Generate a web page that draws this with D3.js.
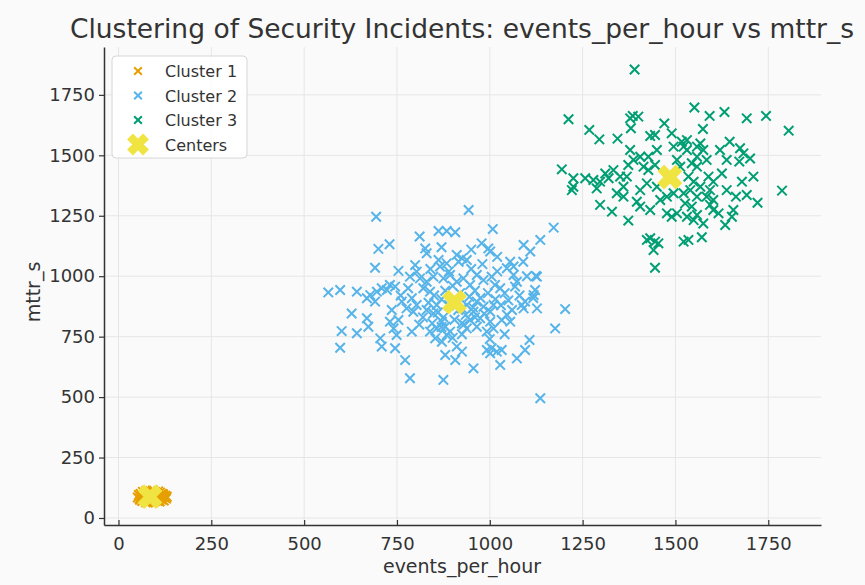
<!DOCTYPE html>
<html>
<head>
<meta charset="utf-8">
<script src="https://cdn.jsdelivr.net/npm/d3@7"></script>
<style>
  html, body { margin: 0; padding: 0; background: #fafafa; }
  text { font-family: "DejaVu Sans", sans-serif; fill: #333; }
</style>
</head>
<body>
<div id="chart"></div>
<script>
// points: [events_per_hour, mttr_s]
const cluster1 = [
  [52,85],[55,95],[58,75],[60,100],[62,88],[64,70],[66,108],[68,92],[70,80],[72,98],
  [74,65],[75,112],[76,87],[78,76],[80,102],[82,92],[84,70],[85,84],[86,110],[88,96],
  [90,78],[91,88],[92,104],[94,66],[95,92],[96,82],[98,108],[100,74],[101,95],[103,86],
  [105,100],[106,70],[108,90],[110,80],[112,105],[114,94],[116,76],[118,88],[120,98],[122,72],
  [124,85],[126,92],[128,80],[130,88],[57,80],[63,94],[69,104],[79,64],[87,74],[93,114],
  [99,80],[107,110],[111,68],[117,100],[71,86],[83,100],[89,90],[97,70],[115,84],[121,90]
];

const cluster2 = [
  [694,1246],[943,1274],[862,1187],[884,1187],[907,1182],[1008,1195],[1172,1201],[811,1164],
  [730,1132],[700,1113],[826,1115],[830,1095],[978,1136],[1001,1102],[996,1115],[1091,1129],
  [1109,1102],[1136,1150],[691,1035],[754,1022],[862,1067],[866,1040],[884,1053],[911,1088],
  [925,1074],[938,1067],[916,1060],[1055,1060],[1064,1040],[1046,1033],[799,1046],[803,1019],
  [785,998],[565,933],[597,943],[642,936],[678,922],[696,936],[709,950],[731,964],[745,957],
  [723,943],[669,909],[691,895],[812,991],[830,977],[848,998],[821,950],[839,936],[875,991],
  [893,1005],[911,977],[929,991],[947,964],[965,1005],[983,984],[1005,998],[1014,964],[1028,950],
  [1064,1005],[1073,977],[1068,957],[1127,998],[1122,943],[1118,922],[1095,895],[1086,881],
  [1127,867],[1203,864],[763,895],[776,867],[790,909],[803,881],[794,853],[736,860],[731,812],
  [741,784],[754,819],[749,757],[628,846],[669,826],[673,791],[642,764],[601,773],[597,704],
  [705,743],[709,709],[745,702],[772,653],[790,771],[830,860],[848,846],[857,881],[871,812],
  [880,791],[857,784],[839,771],[853,743],[884,757],[871,729],[893,771],[925,867],[938,881],
  [956,853],[965,895],[983,874],[1001,853],[1010,881],[974,826],[947,819],[965,791],[938,784],
  [1001,812],[1010,784],[992,771],[925,805],[1046,840],[1055,812],[1032,819],[1176,784],
  [1107,736],[1095,695],[1073,660],[992,695],[1005,702],[1019,688],[1032,695],[1028,633],
  [1001,681],[911,709],[880,674],[907,653],[956,619],[925,688],[785,578],[875,571],[1136,495],
  [880,940],[900,960],[920,930],[945,915],[960,940],[870,905],[890,880],[915,860],[935,840],
  [955,870],[975,910],[995,930],[1015,905],[1030,880],[850,920],[835,890],[860,850],[875,830],
  [905,820],[930,800],[960,830],[985,845],[1040,930],[1050,900],[820,830],[810,800],[890,1020],
  [950,1030],[980,1050],[1020,1020],[870,790],[845,805],[900,745],[925,760],[1000,740],[1040,760],
  [1060,860],[1080,920],[760,920],[780,950],[1090,1060],[1100,1000],[1020,1080],[950,1110],
  [870,1120],[840,1030],[1117,910],[1091,867],[1124,1001]
];

const cluster3 = [
  [1390,1855],[1212,1649],[1551,1698],[1592,1663],[1632,1679],[1692,1653],[1744,1663],[1805,1602],
  [1385,1663],[1400,1660],[1378,1653],[1268,1605],[1295,1566],[1344,1569],[1380,1612],[1432,1580],
  [1445,1584],[1470,1632],[1490,1591],[1574,1609],[1646,1556],[1674,1529],[1701,1487],[1672,1474],
  [1194,1442],[1225,1405],[1225,1370],[1221,1356],[1297,1391],[1311,1425],[1288,1363],[1320,1405],
  [1351,1412],[1369,1412],[1342,1343],[1360,1329],[1297,1295],[1329,1267],[1373,1230],[1396,1308],
  [1405,1288],[1378,1522],[1373,1460],[1387,1481],[1405,1494],[1427,1494],[1445,1460],[1522,1536],
  [1531,1522],[1517,1556],[1558,1536],[1567,1549],[1575,1522],[1544,1467],[1558,1453],[1584,1481],
  [1589,1412],[1602,1391],[1593,1356],[1584,1329],[1602,1315],[1625,1425],[1679,1391],[1663,1329],
  [1721,1304],[1787,1354],[1656,1274],[1652,1246],[1634,1212],[1477,1260],[1490,1246],[1504,1260],
  [1531,1246],[1549,1232],[1558,1253],[1526,1301],[1544,1288],[1432,1157],[1445,1143],[1441,1108],
  [1454,1136],[1423,1150],[1522,1143],[1535,1150],[1571,1161],[1445,1035],[1616,1260],[1602,1274],
  [1522,1343],[1540,1356],[1477,1329],[1450,1370],[1414,1453],[1427,1439],[1450,1522],[1504,1481],
  [1495,1536],[1513,1453],[1535,1412],[1549,1391],[1567,1370],[1558,1329],[1495,1343],[1459,1315],
  [1432,1274],[1405,1356],[1423,1384],[1333,1439],[1360,1370],[1279,1398],[1257,1405],[1638,1481],
  [1620,1522],[1558,1494],[1531,1563],[1683,1508],[1710,1412],[1638,1356],[1692,1336],[1593,1295],
  [1575,1218]
];

const centers = [[85,88],[905,893],[1485,1410]];

const seriesNames = ["Cluster 1", "Cluster 2", "Cluster 3", "Centers"];
const seriesColors = ["#E69F00", "#56B4E9", "#009E73", "#F0E442"];
const xTicks = [0, 250, 500, 750, 1000, 1250, 1500, 1750];
const yTicks = [0, 250, 500, 750, 1000, 1250, 1500, 1750];

const W = 865, H = 585;
const svg = d3.select("#chart").append("svg")
  .attr("width", W).attr("height", H);

svg.append("rect").attr("width", W).attr("height", H).attr("fill", "#fafafa");

const x = d3.scaleLinear().domain([-39, 1892]).range([104, 821]);
const y = d3.scaleLinear().domain([-29, 1948]).range([525, 47]);

// grid
svg.append("g").selectAll("line").data(xTicks).join("line")
  .attr("x1", d => x(d)).attr("x2", d => x(d))
  .attr("y1", y.range()[0]).attr("y2", y.range()[1])
  .attr("stroke", "#e6e6e6").attr("stroke-width", 1);
svg.append("g").selectAll("line").data(yTicks).join("line")
  .attr("y1", d => y(d)).attr("y2", d => y(d))
  .attr("x1", x.range()[0]).attr("x2", x.range()[1])
  .attr("stroke", "#e6e6e6").attr("stroke-width", 1);

// axes
const xAxis = svg.append("g")
  .attr("transform", `translate(0,${y.range()[0]})`)
  .call(d3.axisBottom(x).tickValues(xTicks).tickFormat(d3.format("d"))
    .tickSizeInner(-5).tickSizeOuter(0).tickPadding(12));
const yAxis = svg.append("g")
  .attr("transform", `translate(${x.range()[0]},0)`)
  .call(d3.axisLeft(y).tickValues(yTicks).tickFormat(d3.format("d"))
    .tickSizeInner(5).tickSizeOuter(0).tickPadding(4));

[xAxis, yAxis].forEach(g => {
  g.select(".domain").attr("stroke", "#333").attr("stroke-width", 1.5);
  g.selectAll(".tick line").attr("stroke", "#333").attr("stroke-width", 1.2);
  g.selectAll(".tick text").attr("fill", "#333")
    .style("font-family", "DejaVu Sans").style("font-size", "18px");
});

// points
const cross = d3.symbol(d3.symbolTimes).size(60);
const plotCluster = (pts, color) => {
  svg.append("g").selectAll("path").data(pts).join("path")
    .attr("transform", d => `translate(${x(d[0])},${y(d[1])})`)
    .attr("d", cross)
    .attr("fill", "none")
    .attr("stroke", color)
    .attr("stroke-width", 2);
};
plotCluster(cluster1, seriesColors[0]);
plotCluster(cluster2, seriesColors[1]);
plotCluster(cluster3, seriesColors[2]);

const bigX = d3.symbol(d3.symbolCross).size(340);
svg.append("g").selectAll("path").data(centers).join("path")
  .attr("transform", d => `translate(${x(d[0])},${y(d[1])}) rotate(45)`)
  .attr("d", bigX)
  .attr("fill", seriesColors[3])
  .attr("stroke", seriesColors[3])
  .attr("stroke-width", 1);

// title and labels
svg.append("text")
  .attr("x", 462).attr("y", 38)
  .attr("text-anchor", "middle")
  .style("font-size", "26.5px")
  .text("Clustering of Security Incidents: events_per_hour vs mttr_s");

svg.append("text")
  .attr("x", 462).attr("y", 573)
  .attr("text-anchor", "middle")
  .style("font-size", "19px")
  .text("events_per_hour");

svg.append("text")
  .attr("transform", "translate(40,292) rotate(-90)")
  .attr("text-anchor", "middle")
  .style("font-size", "19px")
  .text("mttr_s");

// legend
const legend = svg.append("g").attr("transform", "translate(112,56)");
legend.append("rect")
  .attr("width", 135).attr("height", 102).attr("rx", 4)
  .attr("fill", "#fff").attr("fill-opacity", 0.85)
  .attr("stroke", "#d6d6d6");

seriesNames.forEach((name, i) => {
  const row = legend.append("g").attr("transform", `translate(0,${15 + i * 24.5})`);
  if (i < 3) {
    row.append("path")
      .attr("transform", "translate(26,0)")
      .attr("d", d3.symbol(d3.symbolTimes).size(40))
      .attr("fill", "none").attr("stroke", seriesColors[i]).attr("stroke-width", 2);
  } else {
    row.append("path")
      .attr("transform", "translate(26,0) rotate(45)")
      .attr("d", d3.symbol(d3.symbolCross).size(260))
      .attr("fill", seriesColors[i]).attr("stroke", seriesColors[i]);
  }
  row.append("text")
    .attr("x", 53).attr("y", 6)
    .style("font-size", "16px")
    .text(name);
});
</script>
</body>
</html>
